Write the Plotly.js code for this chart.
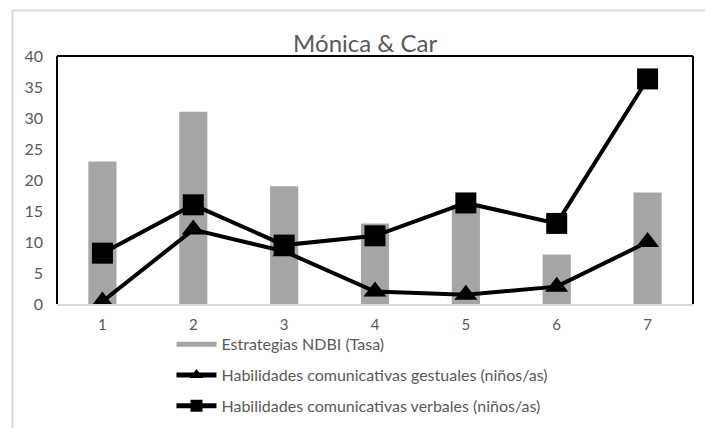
<!DOCTYPE html>
<html>
<head>
<meta charset="utf-8">
<script src="https://cdn.plot.ly/plotly-3.0.1.min.js"></script>
<style>
  html, body { margin: 0; padding: 0; background: #fff; }
  #chart { width: 705px; height: 428px; }
</style>
</head>
<body>
<div id="chart"></div>
<script>
// Sesiones (eje X)
const sesiones = ['1', '2', '3', '4', '5', '6', '7'];
// Estrategias NDBI (Tasa)
const estrategiasNDBI = [23, 31, 19, 13, 16, 8, 18];
// Habilidades comunicativas gestuales (niños/as)
const gestuales = [0.4, 12, 8.5, 2, 1.5, 2.8, 10];
// Habilidades comunicativas verbales (niños/as)
const verbales = [8.2, 16, 9.5, 11, 16.3, 13, 36.3];

const FONT = 'Lato, "Open Sans", sans-serif';
const GRIS = '#595959';
const GRIS_BARRA = '#a5a5a5';

const traces = [
  {
    type: 'bar',
    x: sesiones,
    y: estrategiasNDBI,
    name: 'Estrategias NDBI (Tasa)',
    marker: { color: GRIS_BARRA },
    legendgroup: 'a',
    showlegend: false
  },
  // entrada de leyenda de las barras como franja ancha
  {
    type: 'scatter',
    mode: 'lines',
    x: [null],
    y: [null],
    name: 'Estrategias NDBI (Tasa)',
    line: { color: GRIS_BARRA, width: 8 },
    legendgroup: 'a',
    hoverinfo: 'skip'
  },
  {
    type: 'scatter',
    mode: 'lines+markers',
    x: sesiones,
    y: gestuales,
    name: 'Habilidades comunicativas gestuales (niños/as)',
    line: { color: '#000', width: 4 },
    marker: { symbol: 'triangle-up', size: 20, color: '#000' },
    legendgroup: 'b'
  },
  {
    type: 'scatter',
    mode: 'lines+markers',
    x: sesiones,
    y: verbales,
    name: 'Habilidades comunicativas verbales (niños/as)',
    line: { color: '#000', width: 4 },
    marker: { symbol: 'square', size: 21, color: '#000' },
    legendgroup: 'c'
  }
];

const layout = {
  width: 705,
  height: 428,
  margin: { l: 57, r: 12, t: 56, b: 124, autoexpand: false },
  paper_bgcolor: '#fff',
  plot_bgcolor: '#fff',
  font: { family: FONT, color: GRIS, size: 16 },
  title: {
    text: 'Mónica & Car',
    font: { family: FONT, size: 24, color: GRIS },
    x: 0.518,
    xanchor: 'center',
    y: 0.897,
    yanchor: 'middle'
  },
  bargap: 0.69,
  showlegend: true,
  legend: {
    orientation: 'v',
    x: 0.18,
    xanchor: 'left',
    y: -0.094,
    yanchor: 'top',
    itemwidth: 40,
    itemsizing: 'constant',
    tracegroupgap: 7,
    font: { family: FONT, size: 16, color: GRIS },
    bgcolor: 'rgba(0,0,0,0)'
  },
  xaxis: {
    type: 'category',
    range: [-0.5, 6.5],
    showgrid: false,
    zeroline: false,
    showline: true,
    linecolor: '#d9d9d9',
    linewidth: 2,
    ticks: '',
    ticklabelstandoff: 6,
    tickfont: { family: FONT, size: 15, color: GRIS },
    fixedrange: true
  },
  yaxis: {
    range: [0, 40],
    dtick: 5,
    showgrid: false,
    zeroline: false,
    showline: false,
    ticks: '',
    ticklabelstandoff: 13,
    tickfont: { family: FONT, size: 16, color: GRIS },
    fixedrange: true
  },
  shapes: [
    // marco del área de trazado (arriba, izquierda, derecha)
    { type: 'line', xref: 'paper', yref: 'paper', x0: 0, x1: 1, y0: 1, y1: 1, line: { color: '#000', width: 2 } },
    { type: 'line', xref: 'paper', yref: 'paper', x0: 0, x1: 0, y0: 0, y1: 1, line: { color: '#000', width: 2 } },
    { type: 'line', xref: 'paper', yref: 'paper', x0: 1, x1: 1, y0: 0, y1: 1, line: { color: '#000', width: 2 } },
    // borde exterior del gráfico
    { type: 'rect', xref: 'paper', yref: 'paper', x0: -0.07, x1: 2, y0: -2, y1: 1.183, line: { color: '#d9d9d9', width: 2 }, layer: 'below' }
  ]
};

Plotly.newPlot('chart', traces, layout, { displayModeBar: false, staticPlot: true });
</script>
</body>
</html>
